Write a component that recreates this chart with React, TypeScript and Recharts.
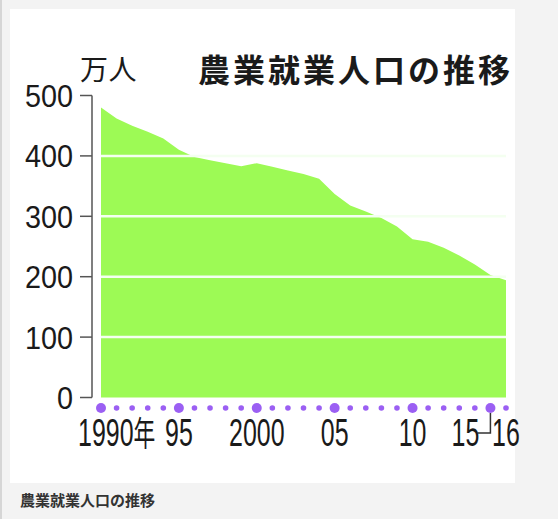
import React from 'react';
import { AreaChart, Area, XAxis, YAxis, ReferenceLine } from 'recharts';

const years = [
  1990, 1991, 1992, 1993, 1994, 1995, 1996, 1997, 1998, 1999, 2000, 2001, 2002, 2003,
  2004, 2005, 2006, 2007, 2008, 2009, 2010, 2011, 2012, 2013, 2014, 2015, 2016,
];
// 万人
const workers = [
  480, 462, 450, 440, 429, 410, 398, 393, 388, 383, 388, 382, 376, 370,
  362, 337, 318, 308, 297, 283, 262, 258, 248, 235, 220, 203, 194,
];
const yTicks = [0, 100, 200, 300, 400, 500];
const gridValues = [100, 200, 300, 400];
const majorYears = [1990, 1995, 2000, 2005, 2010, 2015];
const xLabels: Record<number, string> = {
  1990: '1990',
  1995: '95',
  2000: '2000',
  2005: '05',
  2010: '10',
  2015: '15',
  2016: '16',
};

const data = years.map((year, i) => ({ year, value: workers[i] }));

const digitFont = '"Liberation Sans", Arial, sans-serif';
const jpFont = '"Noto Sans CJK JP", "Noto Sans", sans-serif';
const purple = '#9b5ff3';

function YTick({ x, y, payload }: any) {
  return (
    <text
      transform={`translate(${x},${y + 11.5}) scale(0.9,1)`}
      textAnchor="end"
      fontFamily={digitFont}
      fontSize={32}
      fill="#1a1a1a"
    >
      {payload.value}
    </text>
  );
}

function XTick({ x, y, payload }: any) {
  const year = payload.value as number;
  const major = majorYears.includes(year);
  const dotY = y + 10.5;
  const base = y + 48.5;
  const label = xLabels[year];
  const common = { fontFamily: digitFont, fontSize: 39, fill: '#1a1a1a' };
  const squeeze = (cx: number) => `translate(${cx},${base}) scale(0.64,1)`;
  return (
    <g>
      <circle cx={x} cy={dotY} r={major ? 5 : 2.8} fill={purple} />
      {label && year === 1990 && (
        <text {...common} transform={squeeze(x - 23)} textAnchor="start">
          {label}
          <tspan fontFamily={jpFont} fontSize={34}>
            年
          </tspan>
        </text>
      )}
      {label && year === 2015 && (
        <>
          <path
            d={`M${x},${dotY + 5} V${y + 35.5} H${x - 13}`}
            fill="none"
            stroke="#333"
            strokeWidth={1.5}
          />
          <text {...common} transform={squeeze(x - 25)} textAnchor="middle">
            {label}
          </text>
        </>
      )}
      {label && year !== 1990 && year !== 2015 && (
        <text {...common} transform={squeeze(x)} textAnchor="middle">
          {label}
        </text>
      )}
    </g>
  );
}

export default function App() {
  return (
    <div
      style={{
        position: 'absolute',
        left: 0,
        top: 0,
        width: 558,
        height: 519,
        background: '#f3f3f3',
        borderLeft: '2px solid #d6d6d6',
        boxSizing: 'border-box',
        overflow: 'hidden',
      }}
    >
      <div
        style={{
          position: 'absolute',
          left: 8,
          top: 9,
          width: 505,
          height: 474,
          background: '#fff',
        }}
      />
      <div
        style={{
          position: 'absolute',
          left: 78,
          top: 54,
          fontFamily: jpFont,
          fontSize: 28,
          lineHeight: '28px',
          color: '#1a1a1a',
          letterSpacing: 0.5,
        }}
      >
        万人
      </div>
      <div
        style={{
          position: 'absolute',
          left: 196,
          top: 52,
          fontFamily: jpFont,
          fontSize: 32,
          fontWeight: 700,
          lineHeight: '32px',
          color: '#1a1a1a',
          letterSpacing: 3,
          whiteSpace: 'nowrap',
        }}
      >
        農業就業人口の推移
      </div>
      <div
        style={{
          position: 'absolute',
          left: 18,
          top: 492,
          fontFamily: jpFont,
          fontSize: 15,
          fontWeight: 700,
          lineHeight: '15px',
          color: '#333',
          whiteSpace: 'nowrap',
        }}
      >
        農業就業人口の推移
      </div>
      <div style={{ position: 'absolute', left: -2, top: 0 }}>
        <AreaChart
          width={558}
          height={519}
          data={data}
          margin={{ top: 95.5, right: 52, bottom: 61.5, left: 22 }}
        >
          <XAxis
            dataKey="year"
            type="number"
            domain={[1990, 2016]}
            ticks={years}
            interval={0}
            padding={{ left: 9, right: 0 }}
            axisLine={false}
            tickLine={false}
            tickSize={0}
            tickMargin={0}
            height={60}
            tick={(props: any) => <XTick {...props} />}
          />
          <YAxis
            type="number"
            domain={[0, 500]}
            ticks={yTicks}
            width={70}
            tickSize={12}
            tickMargin={7}
            stroke="#555"
            strokeWidth={1.5}
            tick={(props: any) => <YTick {...props} />}
          />
          <Area
            type="linear"
            dataKey="value"
            fill="#9dfa55"
            fillOpacity={1}
            stroke="none"
            isAnimationActive={false}
          />
          {gridValues.map((v) => (
            <ReferenceLine
              key={v}
              segment={[
                { x: years[0], y: v },
                { x: years[years.length - 1], y: v },
              ]}
              stroke="#f4fff0"
              strokeWidth={2.5}
            />
          ))}
        </AreaChart>
      </div>
    </div>
  );
}
